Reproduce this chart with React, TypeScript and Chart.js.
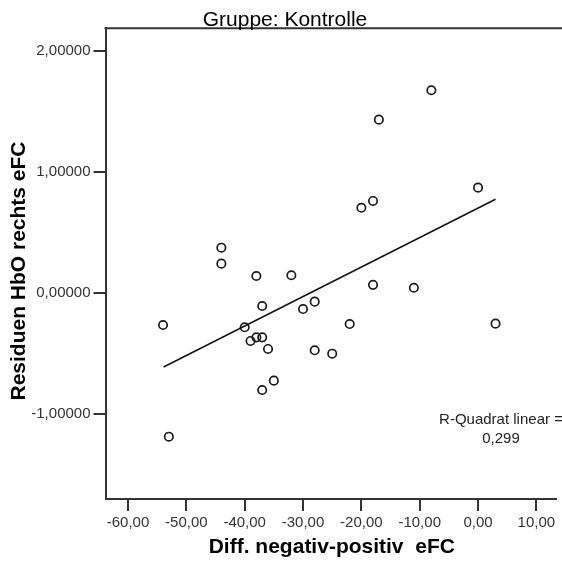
import React, { useEffect, useRef } from "react";
import { Chart, registerables } from "chart.js";

Chart.register(...registerables);

// ---- data ----
const diffX = [-8, -17, 0, -18, -20, -44, -44, -38, -32, -18, -11, -37, -28, -30, -54, -40, -22, 3, -39, -38, -37, -36, -28, -25, -35, -37, -53];
const residY = [1.678, 1.435, 0.873, 0.763, 0.707, 0.377, 0.245, 0.143, 0.149, 0.07, 0.046, -0.105, -0.069, -0.13, -0.262, -0.281, -0.254, -0.251, -0.394, -0.364, -0.364, -0.46, -0.471, -0.499, -0.722, -0.799, -1.185];
const fitX = [-53.9, 3.0];
const fitY = [-0.609, 0.777];
const xTicks = [-60, -50, -40, -30, -20, -10, 0, 10];
const yTicks = [-1, 0, 1, 2];
const chartTitle = "Gruppe: Kontrolle";
const xTitle = "Diff. negativ-positiv  eFC";
const yTitle = "Residuen HbO rechts eFC";
const r2Lines = ["R-Quadrat linear =", "0,299"];

const FONT = '"Liberation Sans", Arial, sans-serif';
const FRAME = "#333333";

const decor = {
  id: "decor",
  afterDraw(chart: any) {
    const { ctx, chartArea: a } = chart;
    ctx.save();
    // top frame line
    ctx.strokeStyle = FRAME;
    ctx.lineWidth = 2;
    ctx.beginPath();
    ctx.moveTo(a.left - 1, a.top);
    ctx.lineTo(chart.width, a.top);
    ctx.stroke();

    // chart title
    ctx.fillStyle = "#000";
    ctx.textAlign = "center";
    ctx.textBaseline = "alphabetic";
    ctx.font = `21px ${FONT}`;
    ctx.fillText(chartTitle, 285, 26);

    // x title
    ctx.font = `bold 21px ${FONT}`;
    ctx.textBaseline = "middle";
    ctx.fillText(xTitle, (a.left + a.right) / 2 + 1, 547);

    // y title
    ctx.save();
    ctx.translate(19, 271);
    ctx.rotate(-Math.PI / 2);
    ctx.fillText(yTitle, 0, 0);
    ctx.restore();

    // R squared annotation
    ctx.font = `15px ${FONT}`;
    ctx.fillStyle = "#222";
    ctx.fillText(r2Lines[0], 501, 420);
    ctx.fillText(r2Lines[1], 501, 439);
    ctx.restore();
  },
};

export default function App() {
  const ref = useRef<HTMLCanvasElement | null>(null);

  useEffect(() => {
    if (!ref.current) return;
    const points = diffX.map((x, i) => ({ x, y: residY[i] }));
    const fit = fitX.map((x, i) => ({ x, y: fitY[i] }));
    const fmt = (d: number) => (v: any) => Number(v).toFixed(d).replace(".", ",");
    const chart = new Chart(ref.current, {
      type: "scatter",
      data: {
        datasets: [
          {
            type: "line",
            data: fit,
            borderColor: "#111",
            borderWidth: 1.5,
            pointRadius: 0,
            fill: false,
          } as any,
          {
            data: points,
            pointStyle: "circle",
            pointRadius: 4.2,
            borderWidth: 1.7,
            borderColor: "#1a1a1a",
            backgroundColor: "rgba(0,0,0,0)",
          },
        ],
      },
      options: {
        animation: false,
        responsive: false,
        maintainAspectRatio: false,
        devicePixelRatio: 1,
        layout: { padding: { top: 28.3, right: 0, left: 0, bottom: 0 } },
        plugins: { legend: { display: false }, tooltip: { enabled: false }, title: { display: false } },
        scales: {
          x: {
            type: "linear",
            min: -63.86,
            max: 13.38,
            afterBuildTicks: (s: any) => {
              s.ticks = xTicks.map((v) => ({ value: v }));
            },
            afterFit: (s: any) => {
              s.height = 64;
            },
            ticks: {
              callback: fmt(2),
              font: { family: FONT, size: 15 },
              color: "#333",
              padding: 3,
              maxRotation: 0,
              autoSkip: false,
            },
            grid: { display: true, drawOnChartArea: false, drawTicks: true, tickLength: 12, color: FRAME, lineWidth: 2 },
            border: { display: true, color: FRAME, width: 2 },
          },
          y: {
            type: "linear",
            min: -1.7,
            max: 2.19,
            afterBuildTicks: (s: any) => {
              s.ticks = yTicks.map((v) => ({ value: v }));
            },
            afterFit: (s: any) => {
              s.width = 105.5;
            },
            ticks: {
              callback: fmt(5),
              font: { family: FONT, size: 15 },
              color: "#333",
              padding: 3,
              autoSkip: false,
            },
            grid: { display: true, drawOnChartArea: false, drawTicks: true, tickLength: 12, color: FRAME, lineWidth: 2 },
            border: { display: true, color: FRAME, width: 2 },
          },
        },
      },
      plugins: [decor],
    });
    return () => chart.destroy();
  }, []);

  return (
    <div style={{ position: "absolute", left: 0, top: 0, width: 562, height: 563, background: "#fff" }}>
      <canvas ref={ref} width={562} height={563} style={{ display: "block" }} />
    </div>
  );
}
